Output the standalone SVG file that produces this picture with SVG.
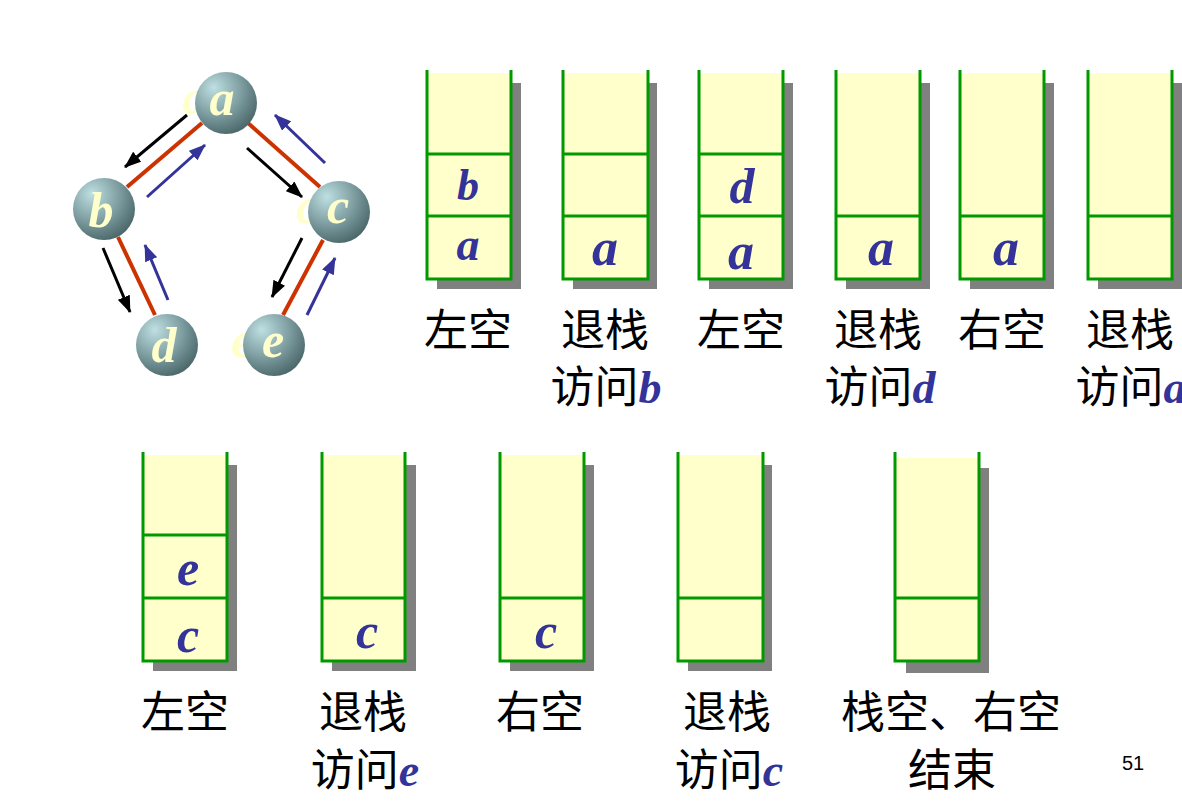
<svg xmlns="http://www.w3.org/2000/svg" width="1182" height="811" viewBox="0 0 1182 811">
<defs>
<style>
.fill{fill:#ffffcc}
.shadow{fill:#808080}
.wall{fill:none;stroke:#009900;stroke-width:3;stroke-linejoin:miter}
.div{stroke:#009900;stroke-width:3}
.item{font-family:"Liberation Serif",serif;font-weight:bold;font-style:italic;fill:#333399;text-anchor:middle}
.cap{font-family:"Noto Sans CJK SC",sans-serif;font-size:44px;fill:#000;text-anchor:middle}
.capv{font-family:"Liberation Serif",serif;font-weight:bold;font-style:italic;fill:#333399}
.nl{font-family:"Liberation Serif",serif;font-weight:bold;font-style:italic;font-size:50px;fill:#ffffcc;text-anchor:middle}
.edge{stroke:#cc3300;stroke-width:4;fill:none}
.down{stroke:#000;stroke-width:3;fill:none}
.up{stroke:#333399;stroke-width:3;fill:none}
</style>
<radialGradient id="ball" cx="0.35" cy="0.3" r="0.75" fx="0.3" fy="0.25">
<stop offset="0" stop-color="#bfe0e3"/>
<stop offset="0.55" stop-color="#7f9fa3"/>
<stop offset="1" stop-color="#4a6668"/>
</radialGradient>
<marker id="ahk" markerWidth="17" markerHeight="13" refX="16" refY="6.5" orient="auto" markerUnits="userSpaceOnUse"><path d="M0,0 L17,6.5 L0,13 z" fill="#000"/></marker>
<marker id="ahb" markerWidth="17" markerHeight="13" refX="16" refY="6.5" orient="auto" markerUnits="userSpaceOnUse"><path d="M0,0 L17,6.5 L0,13 z" fill="#333399"/></marker>
</defs>
<rect width="1182" height="811" fill="#fff"/>

<g id="connectors">
<line class="edge" x1="202" y1="123" x2="127" y2="187"/>
<line class="edge" x1="248" y1="123" x2="320" y2="187"/>
<line class="edge" x1="118" y1="237" x2="155" y2="315"/>
<line class="edge" x1="323" y1="240" x2="283" y2="315"/>
<line class="down" x1="187" y1="115" x2="125" y2="167" marker-end="url(#ahk)"/>
<line class="down" x1="247" y1="148" x2="302" y2="197" marker-end="url(#ahk)"/>
<line class="down" x1="103" y1="248" x2="130" y2="312" marker-end="url(#ahk)"/>
<line class="down" x1="302" y1="238" x2="272" y2="297" marker-end="url(#ahk)"/>
<line class="up" x1="147" y1="197" x2="205" y2="145" marker-end="url(#ahb)"/>
<line class="up" x1="325" y1="163" x2="275" y2="115" marker-end="url(#ahb)"/>
<line class="up" x1="168" y1="300" x2="145" y2="245" marker-end="url(#ahb)"/>
<line class="up" x1="307" y1="315" x2="335" y2="258" marker-end="url(#ahb)"/>
</g>
<g id="node-a">
<text class="nl" x="195" y="114">a</text>
<circle cx="226" cy="103" r="31" fill="url(#ball)"/>
<text class="nl" x="222" y="115">a</text>
</g>
<g id="node-b">
<circle cx="104" cy="209" r="31" fill="url(#ball)"/>
<text class="nl" x="101" y="227">b</text>
</g>
<g id="node-c">
<text class="nl" x="307" y="223">c</text>
<circle cx="339" cy="212" r="31" fill="url(#ball)"/>
<text class="nl" x="338" y="223">c</text>
</g>
<g id="node-d">
<circle cx="167" cy="345" r="31" fill="url(#ball)"/>
<text class="nl" x="164" y="362">d</text>
</g>
<g id="node-e">
<text class="nl" x="242" y="357">e</text>
<circle cx="274" cy="345" r="31" fill="url(#ball)"/>
<text class="nl" x="273" y="357">e</text>
</g>

<g id="stack1">
<rect class="shadow" x="437" y="83" width="84" height="206"/>
<rect class="fill" x="427" y="73" width="84" height="206"/>
<line class="div" x1="427" y1="154" x2="511" y2="154"/>
<line class="div" x1="427" y1="216" x2="511" y2="216"/>
<path class="wall" d="M427,70 V279 H511 V70"/>
<text class="item" x="468" y="200" font-size="44">b</text>
<text class="item" x="468" y="260" font-size="46">a</text>
<text class="cap" x="468" y="346">左空</text>
</g>
<g id="stack2">
<rect class="shadow" x="573" y="83" width="84" height="206"/>
<rect class="fill" x="563" y="73" width="85" height="206"/>
<line class="div" x1="563" y1="154" x2="648" y2="154"/>
<line class="div" x1="563" y1="216" x2="648" y2="216"/>
<path class="wall" d="M563,70 V279 H648 V70"/>
<text class="item" x="605" y="265" font-size="52">a</text>
<text class="cap" x="605" y="346">退栈</text>
<text class="cap" x="606" y="403">访问<tspan class="capv" font-size="46">b</tspan></text>
</g>
<g id="stack3">
<rect class="shadow" x="709" y="83" width="84" height="206"/>
<rect class="fill" x="699" y="73" width="84" height="206"/>
<line class="div" x1="699" y1="154" x2="783" y2="154"/>
<line class="div" x1="699" y1="216" x2="783" y2="216"/>
<path class="wall" d="M699,70 V279 H783 V70"/>
<text class="item" x="742" y="203" font-size="50">d</text>
<text class="item" x="741" y="269" font-size="52">a</text>
<text class="cap" x="741" y="346">左空</text>
</g>
<g id="stack4">
<rect class="shadow" x="846" y="83" width="84" height="206"/>
<rect class="fill" x="836" y="73" width="84" height="206"/>
<line class="div" x1="836" y1="216" x2="920" y2="216"/>
<path class="wall" d="M836,70 V279 H920 V70"/>
<text class="item" x="881" y="265" font-size="52">a</text>
<text class="cap" x="878" y="346">退栈</text>
<text class="cap" x="880" y="403">访问<tspan class="capv" font-size="46">d</tspan></text>
</g>
<g id="stack5">
<rect class="shadow" x="970" y="83" width="84" height="206"/>
<rect class="fill" x="960" y="73" width="84" height="206"/>
<line class="div" x1="960" y1="216" x2="1044" y2="216"/>
<path class="wall" d="M960,70 V279 H1044 V70"/>
<text class="item" x="1006" y="265" font-size="52">a</text>
<text class="cap" x="1002" y="346">右空</text>
</g>
<g id="stack6">
<rect class="shadow" x="1098" y="83" width="84" height="206"/>
<rect class="fill" x="1088" y="73" width="84" height="206"/>
<line class="div" x1="1088" y1="216" x2="1172" y2="216"/>
<path class="wall" d="M1088,70 V279 H1172 V70"/>
<text class="cap" x="1130" y="346">退栈</text>
<text class="cap" x="1131" y="403">访问<tspan class="capv" font-size="46">a</tspan></text>
</g>

<g id="stack7">
<rect class="shadow" x="153" y="465" width="84" height="206"/>
<rect class="fill" x="143" y="455" width="84" height="206"/>
<line class="div" x1="143" y1="535" x2="227" y2="535"/>
<line class="div" x1="143" y1="598" x2="227" y2="598"/>
<path class="wall" d="M143,452 V661 H227 V452"/>
<text class="item" x="188" y="585" font-size="50">e</text>
<text class="item" x="188" y="652" font-size="50">c</text>
<text class="cap" x="185" y="728">左空</text>
</g>
<g id="stack8">
<rect class="shadow" x="332" y="465" width="84" height="206"/>
<rect class="fill" x="322" y="455" width="83" height="206"/>
<line class="div" x1="322" y1="598" x2="405" y2="598"/>
<path class="wall" d="M322,452 V661 H405 V452"/>
<text class="item" x="367" y="648" font-size="50">c</text>
<text class="cap" x="363" y="728">退栈</text>
<text class="cap" x="365" y="786">访问<tspan class="capv" font-size="46">e</tspan></text>
</g>
<g id="stack9">
<rect class="shadow" x="510" y="465" width="84" height="206"/>
<rect class="fill" x="500" y="455" width="84" height="206"/>
<line class="div" x1="500" y1="598" x2="584" y2="598"/>
<path class="wall" d="M500,452 V661 H584 V452"/>
<text class="item" x="546" y="648" font-size="50">c</text>
<text class="cap" x="540" y="728">右空</text>
</g>
<g id="stack10">
<rect class="shadow" x="688" y="465" width="84" height="206"/>
<rect class="fill" x="678" y="455" width="85" height="206"/>
<line class="div" x1="678" y1="598" x2="763" y2="598"/>
<path class="wall" d="M678,452 V661 H763 V452"/>
<text class="cap" x="727" y="728">退栈</text>
<text class="cap" x="729" y="786">访问<tspan class="capv" font-size="46">c</tspan></text>
</g>
<g id="stack11">
<rect class="shadow" x="906" y="468" width="83" height="205"/>
<rect class="fill" x="895" y="458" width="84" height="203"/>
<line class="div" x1="895" y1="598" x2="979" y2="598"/>
<path class="wall" d="M895,452 V661 H979 V452"/>
<text class="cap" x="951" y="728" font-size="46">栈空、右空</text>
<text class="cap" x="952" y="786">结束</text>
</g>

<text x="1133" y="770" font-family="Liberation Sans, Arial, sans-serif" font-size="20" text-anchor="middle" fill="#000">51</text>
</svg>
